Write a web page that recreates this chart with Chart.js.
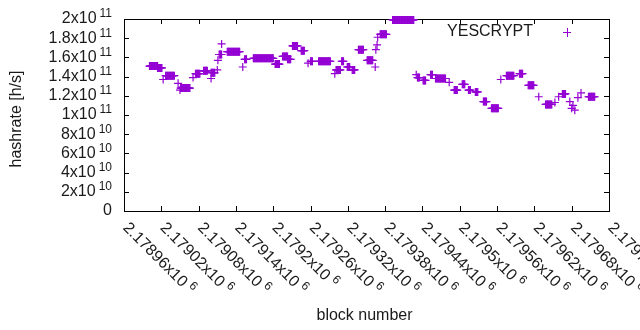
<!DOCTYPE html>
<html><head><meta charset="utf-8">
<script src="https://cdn.jsdelivr.net/npm/chart.js@4/dist/chart.umd.min.js"></script>
<style>html,body{margin:0;padding:0;background:#fff}canvas{display:block}</style>
</head><body>
<canvas id="c" width="640" height="330"></canvas>
<script>
const seriesName = 'YESCRYPT';
const xTitle = 'block number';
const yTitle = 'hashrate [h/s]';
// runs of blocks with a constant hashrate reading (first block, last block, hashrate in 1e9 h/s)
const runStart = [2179001,2179014,2179023,2179027,2179047,2179050,2179051,2179071,2179075,2179088,2179100,2179100,2179110,2179111,2179113,2179117,2179126,2179151,2179154,2179168,2179203,2179215,2179223,2179231,2179245,2179256,2179260,2179273,2179299,2179301,2179310,2179319,2179327,2179337,2179351,2179364,2179365,2179367,2179368,2179372,2179392,2179430,2179432,2179441,2179453,2179461,2179483,2179491,2179504,2179514,2179525,2179538,2179551,2179566,2179575,2179596,2179610,2179627,2179638,2179653,2179659,2179665,2179677,2179680,2179682,2179685,2179690,2179695,2179707];
const runEnd   = [2179014,2179021,2179023,2179041,2179047,2179050,2179066,2179071,2179082,2179094,2179100,2179106,2179110,2179111,2179117,2179117,2179146,2179151,2179157,2179200,2179210,2179223,2179228,2179239,2179250,2179256,2179263,2179292,2179299,2179308,2179313,2179323,2179331,2179345,2179360,2179364,2179365,2179367,2179368,2179382,2179426,2179430,2179435,2179445,2179456,2179477,2179483,2179496,2179508,2179517,2179529,2179543,2179562,2179566,2179587,2179601,2179619,2179627,2179648,2179653,2179659,2179670,2179677,2179680,2179682,2179685,2179690,2179695,2179717];
const runHashrate = [151,149,137,141,133,126,128,139,143,146,138,144,147,157,163,174,166,150,158,159,153,161,158,172,167,154,156,156,143,147,156,150,147,168,157,150,168,173,181,184,199,142,139,136,142,138,134,126,132,126,124,114,107,137,141,143,131,119,111,113,119,122,114,107,110,105,118,123,119];
const xTicks = [2178960,2179020,2179080,2179140,2179200,2179260,2179320,2179380,2179440,2179500,2179560,2179620,2179680,2179740];
const yTicks = [0,2e10,4e10,6e10,8e10,1e11,1.2e11,1.4e11,1.6e11,1.8e11,2e11];

const points = [];
runStart.forEach((s, i) => {
  for (let b = s; b <= runEnd[i]; b++) points.push({x: b, y: runHashrate[i] * 1e9});
});

const COLOR = '#9400d3';
const FF = '"Liberation Sans", Arial, sans-serif';
const F = '16px ' + FF, FS = '12px ' + FF;

function sci(v, dec) {
  if (v === 0) return ['0', ''];
  const e = Math.floor(Math.log10(v) + 1e-9);
  const m = parseFloat((v / Math.pow(10, e)).toFixed(dec));
  return [m + 'x10', String(e)];
}

const deco = {
  id: 'deco',
  beforeDatasetsDraw(chart) {
    const {ctx, chartArea: a, scales: {x, y}} = chart;
    ctx.save();
    ctx.strokeStyle = '#000'; ctx.lineWidth = 1;
    ctx.strokeRect(a.left + 0.5, a.top + 0.5, a.right - a.left, a.bottom - a.top);
    ctx.beginPath();
    xTicks.forEach(t => {
      const px = Math.round(x.getPixelForValue(t)) + 0.5;
      ctx.moveTo(px, a.bottom); ctx.lineTo(px, a.bottom - 5);
      ctx.moveTo(px, a.top); ctx.lineTo(px, a.top + 5);
    });
    yTicks.forEach(t => {
      const py = Math.round(y.getPixelForValue(t)) + 0.5;
      ctx.moveTo(a.left, py); ctx.lineTo(a.left + 5, py);
      ctx.moveTo(a.right, py); ctx.lineTo(a.right - 5, py);
    });
    ctx.stroke();
    ctx.fillStyle = '#1a1a1a';
    ctx.textBaseline = 'middle';
    // y tick labels
    yTicks.forEach(t => {
      const py = y.getPixelForValue(t);
      const [b, e] = sci(t, 3);
      const rx = a.left - 12;
      if (!e) { ctx.font = F; ctx.textAlign = 'right'; ctx.fillText(b, rx, py); return; }
      ctx.font = FS; const we = ctx.measureText(e).width;
      ctx.textAlign = 'right';
      ctx.fillText(e, rx, py - 5);
      ctx.font = F;
      ctx.fillText(b, rx - we - 3, py);
    });
    // x tick labels (rotated)
    xTicks.forEach(t => {
      const px = x.getPixelForValue(t);
      const [b, e] = sci(t, 5);
      ctx.save();
      ctx.translate(px, a.bottom + 13);
      ctx.rotate(Math.PI / 4);
      ctx.textAlign = 'left';
      ctx.font = F;
      ctx.fillText(b, 2, 0);
      const wb = ctx.measureText(b).width;
      ctx.font = FS;
      ctx.fillText(e, 2 + wb + 4, -5);
      ctx.restore();
    });
    // axis titles
    ctx.font = F; ctx.textAlign = 'center';
    ctx.fillText(xTitle, (a.left + a.right) / 2 - 2, 316);
    ctx.save();
    ctx.translate(17, (a.top + a.bottom) / 2 + 4);
    ctx.rotate(-Math.PI / 2);
    ctx.fillText(yTitle, 0, 0);
    ctx.restore();
    // legend
    ctx.textAlign = 'right';
    ctx.fillText(seriesName, 533, 32);
    ctx.strokeStyle = COLOR;
    ctx.beginPath();
    ctx.moveTo(563, 32.5); ctx.lineTo(571, 32.5);
    ctx.moveTo(567.5, 28); ctx.lineTo(567.5, 37);
    ctx.stroke();
    ctx.restore();
  }
};

new Chart(document.getElementById('c'), {
  type: 'scatter',
  data: { datasets: [{
    label: seriesName,
    data: points,
    pointStyle: 'cross',
    pointRadius: 4,
    borderWidth: 1.2,
    borderColor: COLOR,
    backgroundColor: COLOR,
    clip: false
  }]},
  options: {
    responsive: false,
    animation: false,
    devicePixelRatio: 1,
    layout: { padding: { left: 124, right: 31, top: 19, bottom: 119 } },
    plugins: { legend: { display: false }, tooltip: { enabled: false } },
    scales: {
      x: { type: 'linear', display: false, min: 2178960, max: 2179740 },
      y: { type: 'linear', display: false, min: 0, max: 2e11 }
    }
  },
  plugins: [deco]
});
</script>
</body></html>
